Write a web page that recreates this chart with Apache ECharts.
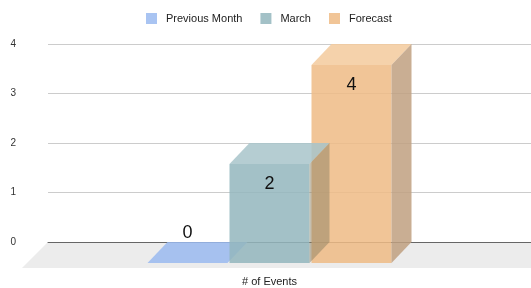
<!DOCTYPE html>
<html>
<head>
<meta charset="utf-8">
<script src="https://cdn.jsdelivr.net/npm/echarts@6/dist/echarts.min.js"></script>
<style>
  html, body { margin: 0; padding: 0; background: #fff; }
  #main { width: 531px; height: 288px; }
</style>
</head>
<body>
<div id="main"></div>
<script>
// data
const categories = ['# of Events'];
const seriesNames = ['Previous Month', 'March', 'Forecast'];
const previousMonth = [0];
const march = [2];
const forecast = [4];
const yMin = 0, yMax = 4, yStep = 1;

// 3D box look
const depthX = 20, depthY = 21, barW = 80, pitch = 82;
const font = 'Liberation Sans, Arial, sans-serif';

// top, front, side colours for each series
const faces = [
  { top: 'rgba(154,186,240,0.85)', front: 'rgba(154,186,240,0.85)', side: 'rgba(120,150,210,0.85)', legend: '#a9c4f2' },
  { top: 'rgba(168,196,202,0.85)', front: 'rgba(147,182,189,0.85)', side: 'rgba(139,127,97,0.5)', legend: '#a3c1c7' },
  { top: 'rgba(243,202,156,0.85)', front: 'rgba(239,187,133,0.85)', side: 'rgba(192,160,128,0.85)', legend: '#f1c597' }
];

function makeBox(slot, c) {
  return function (params, api) {
    const top = api.coord([api.value(0), api.value(1)]);
    const base = api.coord([api.value(0), 0]);
    const bx = top[0] + slot * pitch;    // back centre
    const l = bx - barW / 2, r = bx + barW / 2;
    const ty = top[1], by = base[1];
    const children = [];
    // front
    children.push({
      type: 'rect',
      shape: { x: l - depthX, y: ty + depthY, width: barW, height: by - ty },
      style: { fill: c.front }
    });
    // top
    children.push({
      type: 'polygon',
      shape: { points: [[l - depthX, ty + depthY], [r - depthX, ty + depthY], [r, ty], [l, ty]] },
      style: { fill: c.top }
    });
    // side
    if (by - ty > 0) {
      children.push({
        type: 'polygon',
        shape: { points: [[r - depthX, ty + depthY], [r, ty], [r, by], [r - depthX, by + depthY]] },
        style: { fill: c.side }
      });
    }
    // value label
    const inside = by - ty >= 40;
    children.push({
      type: 'text',
      style: {
        text: String(api.value(1)),
        x: bx - depthX,
        y: inside ? ty + depthY + 20 : ty - 9,
        align: 'center',
        verticalAlign: 'middle',
        fontSize: 18,
        fontFamily: font,
        fill: '#111'
      }
    });
    return { type: 'group', children: children };
  };
}

// floor under the bars
function renderFloor(params, api) {
  const cs = params.coordSys;
  const y0 = cs.y + cs.height;
  const d = 26;
  return {
    type: 'polygon',
    shape: { points: [[cs.x, y0], [cs.x + cs.width + 30, y0], [cs.x + cs.width + 30 - d, y0 + d], [cs.x - d, y0 + d]] },
    style: { fill: '#ececec' }
  };
}

const seriesData = [previousMonth, march, forecast];
const slots = [-1, 0, 1];
const zs = [2, 4, 3];

const series = [{
  type: 'custom',
  z: -1,
  silent: true,
  renderItem: renderFloor,
  data: [[0, 0]]
}];
seriesNames.forEach(function (name, i) {
  series.push({
    name: name,
    type: 'custom',
    z: zs[i],
    color: faces[i].legend,
    renderItem: makeBox(slots[i], faces[i]),
    encode: { x: 0, y: 1 },
    data: seriesData[i].map(function (v, k) { return [k, v]; })
  });
});

const myChart = echarts.init(document.getElementById('main'));
const option = {
  animation: false,
  legend: {
    data: seriesNames,
    left: 146,
    top: 13,
    padding: 0,
    icon: 'rect',
    itemWidth: 11,
    itemHeight: 11,
    itemGap: 18,
    textStyle: { fontSize: 11, color: '#222', fontFamily: font, padding: [0, 0, 0, 4] }
  },
  grid: { left: 48, right: 0, top: 44, bottom: 46 },
  xAxis: {
    type: 'category',
    data: categories,
    axisLine: { show: true, lineStyle: { color: '#666', width: 1 } },
    axisTick: { show: false },
    axisLabel: { margin: 34, fontSize: 11, color: '#222', fontFamily: font, padding: [0, 40, 0, 0] }
  },
  yAxis: {
    type: 'value',
    min: yMin,
    max: yMax,
    interval: yStep,
    axisLine: { show: false },
    axisTick: { show: false },
    axisLabel: { margin: 32, fontSize: 10, color: '#333', fontFamily: font },
    splitLine: { lineStyle: { color: '#ccc', width: 1 } }
  },
  series: series
};
myChart.setOption(option);
</script>
</body>
</html>
